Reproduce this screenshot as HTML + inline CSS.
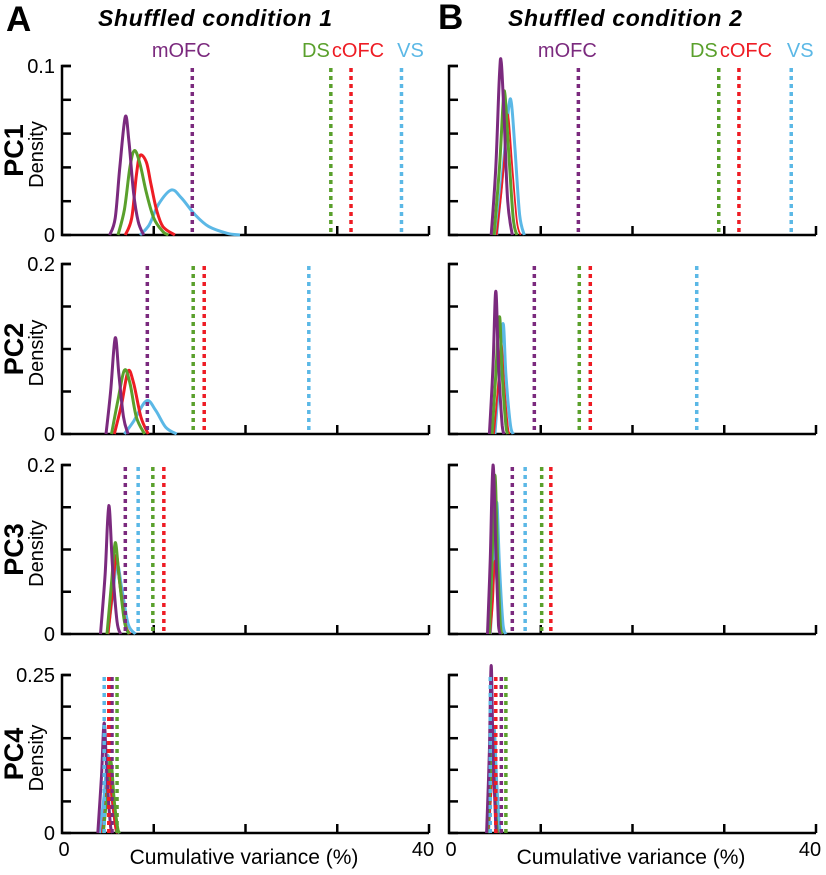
<!DOCTYPE html>
<html><head><meta charset="utf-8"><style>
body{margin:0;background:#fff;}
svg text{font-family:"Liberation Sans",sans-serif;}
</style></head><body>
<svg id="fig" width="826" height="870" viewBox="0 0 826 870" xmlns="http://www.w3.org/2000/svg">
<text x="6" y="31" font-size="35" font-weight="bold">A</text>
<text x="98" y="26" font-size="23" font-weight="bold" font-style="italic" textLength="234">Shuffled condition 1</text>
<text x="438" y="29" font-size="35" font-weight="bold">B</text>
<text x="508" y="26" font-size="23" font-weight="bold" font-style="italic" textLength="234">Shuffled condition 2</text>
<g id="plots"></g>
</svg>
<script>
const colors = {mOFC:'#7b2a7e', DS:'#5aa02c', cOFC:'#ee1c24', VS:'#5bb8e6'};
const regions = ['mOFC','DS','cOFC','VS'];
const rowYmax = [0.1, 0.2, 0.2, 0.25];
const rowTickStep = [0.02, 0.05, 0.05, 0.05];
const rowTickLabels = [['0','0.1'],['0','0.2'],['0','0.2'],['0','0.25']];
const xTicks = [0,10,20,30,40];
const observedA = [
 {mOFC:14.2, DS:29.3, cOFC:31.5, VS:37.0},
 {mOFC:9.3, DS:14.3, cOFC:15.5, VS:26.9},
 {mOFC:6.9, DS:9.9, cOFC:11.1, VS:8.3},
 {mOFC:5.45, DS:6.0, cOFC:5.1, VS:4.6}];
const observedB = [
 {mOFC:14.1, DS:29.4, cOFC:31.6, VS:37.3},
 {mOFC:9.3, DS:14.2, cOFC:15.4, VS:27.0},
 {mOFC:6.9, DS:10.1, cOFC:11.1, VS:8.3},
 {mOFC:5.7, DS:6.2, cOFC:5.1, VS:4.5}];
const densA = [
 {mOFC:[[5.2,0],[5.8,0.01],[6.3,0.04],[6.9,0.070],[7.3,0.055],[7.8,0.025],[8.3,0.008],[8.9,0]],
  DS:[[6.1,0],[6.8,0.015],[7.4,0.04],[7.9,0.050],[8.5,0.042],[9.2,0.025],[10,0.01],[11,0.002],[11.6,0]],
  cOFC:[[6.9,0],[7.6,0.01],[8.1,0.035],[8.5,0.047],[9.2,0.043],[9.7,0.03],[10.3,0.015],[11,0.005],[12.3,0]],
  VS:[[8.5,0],[9.5,0.006],[10.5,0.018],[11.9,0.0266],[13,0.022],[14.5,0.012],[16,0.005],[18,0.001],[19.4,0]]},
 {mOFC:[[4.8,0],[5.3,0.05],[5.8,0.113],[6.2,0.07],[6.7,0.02],[7.2,0]],
  DS:[[5.4,0],[6.1,0.04],[6.8,0.075],[7.4,0.06],[8.1,0.02],[9,0]],
  cOFC:[[5.7,0],[6.5,0.035],[7.2,0.074],[7.8,0.06],[8.6,0.02],[9.4,0]],
  VS:[[6.8,0],[7.8,0.015],[9.2,0.039],[10.2,0.028],[11.3,0.008],[12.5,0]]},
 {mOFC:[[4.2,0],[4.7,0.07],[5.1,0.152],[5.5,0.08],[6,0.015],[6.4,0]],
  DS:[[4.9,0],[5.4,0.06],[5.8,0.108],[6.2,0.07],[6.8,0.015],[7.3,0]],
  cOFC:[[5,0],[5.5,0.05],[5.9,0.093],[6.3,0.06],[6.9,0.012],[7.4,0]],
  VS:[[5,0],[5.5,0.045],[6,0.083],[6.5,0.055],[7.2,0.012],[8,0]]},
 {mOFC:[[3.9,0],[4.3,0.09],[4.6,0.174],[4.9,0.09],[5.3,0.01],[5.5,0]],
  DS:[[4.5,0],[4.9,0.06],[5.3,0.115],[5.7,0.05],[6.1,0.005],[6.3,0]],
  cOFC:[[4.4,0],[4.8,0.05],[5.1,0.1],[5.5,0.05],[5.9,0.005],[6.1,0]],
  VS:[[4.1,0],[4.6,0.06],[5.0,0.123],[5.4,0.06],[5.9,0.008],[6.3,0]]}];
const densB = [
 {mOFC:[[4.6,0],[5.1,0.04],[5.5,0.095],[5.7,0.102],[6.0,0.07],[6.4,0.02],[6.9,0]],
  DS:[[4.9,0],[5.5,0.04],[5.9,0.078],[6.1,0.083],[6.5,0.05],[7,0.01],[7.4,0]],
  cOFC:[[5.2,0],[5.8,0.03],[6.3,0.065],[6.5,0.069],[6.9,0.04],[7.4,0.008],[7.8,0]],
  VS:[[5.2,0],[5.9,0.04],[6.5,0.075],[6.8,0.078],[7.2,0.05],[7.7,0.012],[8.2,0]]},
 {mOFC:[[4.4,0],[4.8,0.08],[5.1,0.168],[5.4,0.08],[5.8,0.01],[6,0]],
  DS:[[4.7,0],[5.1,0.07],[5.5,0.138],[5.8,0.07],[6.2,0.01],[6.4,0]],
  cOFC:[[4.9,0],[5.3,0.05],[5.7,0.106],[6.0,0.06],[6.4,0.01],[6.6,0]],
  VS:[[5,0],[5.5,0.07],[5.9,0.13],[6.2,0.07],[6.7,0.01],[7,0]]},
 {mOFC:[[4.2,0],[4.5,0.09],[4.8,0.2],[5.1,0.1],[5.4,0.01],[5.6,0]],
  DS:[[4.4,0],[4.7,0.09],[5.0,0.188],[5.3,0.09],[5.6,0.01],[5.8,0]],
  cOFC:[[4.5,0],[4.8,0.04],[5.0,0.087],[5.3,0.04],[5.6,0.005],[5.8,0]],
  VS:[[4.5,0],[4.9,0.08],[5.2,0.156],[5.5,0.08],[5.9,0.01],[6.2,0]]},
 {mOFC:[[4.1,0],[4.4,0.13],[4.6,0.265],[4.8,0.13],[5.1,0.01],[5.2,0]],
  DS:[[4.2,0],[4.5,0.09],[4.7,0.174],[4.9,0.09],[5.2,0.01],[5.3,0]],
  cOFC:[[4.3,0],[4.6,0.06],[4.8,0.115],[5.0,0.06],[5.3,0.005],[5.4,0]],
  VS:[[4.3,0],[4.6,0.08],[4.9,0.166],[5.2,0.08],[5.5,0.01],[5.7,0]]}];

const NS='http://www.w3.org/2000/svg';
const root=document.getElementById('plots');
const rows=[{top:66,bot:235},{top:264,bot:434},{top:465,bot:634},{top:675,bot:833}];
const panels=[{x0:62,x1:429,obs:observedA,dens:densA,id:'a'},{x0:449,x1:816,obs:observedB,dens:densB,id:'b'}];
function mk(tag,attrs,parent){const e=document.createElementNS(NS,tag);for(const k in attrs)e.setAttribute(k,attrs[k]);(parent||root).appendChild(e);return e;}
function smooth(P){
 let d='M'+P[0][0].toFixed(1)+','+P[0][1].toFixed(1);
 for(let i=0;i<P.length-1;i++){
  const p0=P[i-1]||P[i],p1=P[i],p2=P[i+1],p3=P[i+2]||P[i+1];
  let c1y=p1[1]+(p2[1]-p0[1])/6,c2y=p2[1]-(p3[1]-p1[1])/6;
  const lo=Math.max(p1[1],p2[1]);c1y=Math.min(c1y,lo);c2y=Math.min(c2y,lo);
  d+=` C${(p1[0]+(p2[0]-p0[0])/6).toFixed(1)},${c1y.toFixed(1)} ${(p2[0]-(p3[0]-p1[0])/6).toFixed(1)},${c2y.toFixed(1)} ${p2[0].toFixed(1)},${p2[1].toFixed(1)}`;
 }
 return d;
}
panels.forEach((p,pi)=>{
 rows.forEach((r,ri)=>{
  const g=mk('g',{});
  
  
  const xs=v=>p.x0+(v/40)*(p.x1-p.x0);
  const ys=v=>r.bot-(v/rowYmax[ri])*(r.bot-r.top);
  const ax=mk('path',{d:`M${p.x0+9},${r.top} H${p.x0} V${r.bot} H${p.x1}`,stroke:'#000','stroke-width':2.5,fill:'none'},g);
  
  
  for(let t=0;t<=rowYmax[ri]+1e-9;t+=rowTickStep[ri]){
   mk('line',{x1:p.x0,x2:p.x0+9,y1:ys(t),y2:ys(t),stroke:'#000','stroke-width':2.5},g);
  }
  xTicks.slice(1).forEach(t=>mk('line',{x1:xs(t),x2:xs(t),y1:r.bot,y2:r.bot-9,stroke:'#000','stroke-width':2.5},g));
  if(pi===0){
   const l0=mk('text',{x:55,y:r.bot+7,'font-size':20,'text-anchor':'end'},g);l0.textContent=rowTickLabels[ri][0];
   
   
   const l1=mk('text',{x:55,y:r.top+7,'font-size':20,'text-anchor':'end'},g);l1.textContent=rowTickLabels[ri][1];
   
   
   const cy=(r.top+r.bot)/2;
   const pc=mk('text',{x:0,y:0,'font-size':27,'font-weight':'bold','text-anchor':'middle',transform:`translate(23,${cy}) rotate(-90)`},g);pc.textContent='PC'+(ri+1);
   
   
   const dn=mk('text',{x:0,y:0,'font-size':20,'text-anchor':'middle',transform:`translate(43,${cy+4}) rotate(-90)`},g);dn.textContent='Density';
   
   
  }
  ['VS','cOFC','DS','mOFC'].forEach(k=>{
   const pts=p.dens[ri][k].map(q=>[xs(q[0]),ys(q[1])]);
   const c=mk('path',{d:smooth(pts),stroke:colors[k],'stroke-width':(pi===1&&k==='cOFC')?1.8:3,fill:'none','stroke-linejoin':'round'},g);
   
   
  });
  regions.forEach(k=>{
   const v=p.obs[ri][k];
   const l=mk('line',{x1:xs(v),x2:xs(v),y1:r.top+2,y2:r.bot,stroke:colors[k],'stroke-width':3.5,'stroke-dasharray':'4,4'},g);
   
   
  });
  if(ri===0){
   const o=p.obs[0];
   const labs=[['mOFC',xs(o.mOFC)-11,'middle'],['DS',xs(o.DS)-1,'end'],['cOFC',xs(o.cOFC)+7,'middle'],['VS',xs(o.VS)+9,'middle']];
   labs.forEach(a=>{const t=mk('text',{x:a[1],y:57,'font-size':20,fill:colors[a[0]],'text-anchor':a[2]},g);t.textContent=a[0];
    
    });
  }
  if(ri===3){
   const t0=mk('text',{x:p.x0+2,y:856,'font-size':20,'text-anchor':'middle'},g);t0.textContent='0';
   
   
   const t4=mk('text',{x:p.x1-6,y:856,'font-size':20,'text-anchor':'middle'},g);t4.textContent='40';
   
   
   const xt=mk('text',{x:p.x0+182,y:864,'font-size':21,'text-anchor':'middle'},g);xt.textContent='Cumulative variance (%)';
   
   
  }
 });
});
</script>
</body></html>
